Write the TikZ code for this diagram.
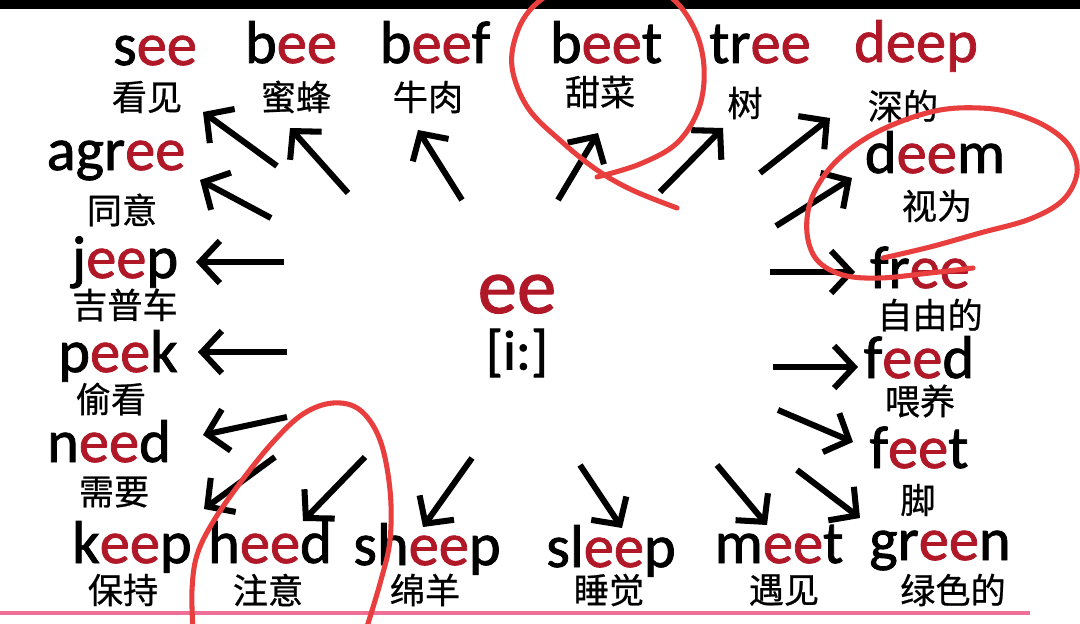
\documentclass[tikz,border=0pt]{standalone}
\usepackage{fontspec}
\setmainfont{Carlito}[FakeBold=1.3]
\newfontfamily\zhfont{Noto Sans CJK SC}[FakeBold=0.7]
\usetikzlibrary{arrows.meta}
\definecolor{eered}{RGB}{176,24,40}
\definecolor{annotred}{RGB}{232,62,62}
\definecolor{pinkline}{RGB}{238,112,150}
\newcommand{\E}[1]{\textcolor{eered}{#1}}
\begin{document}
\begin{tikzpicture}[x=0.025cm,y=-0.025cm,
  en/.style={anchor=base,inner sep=0pt,font=\fontsize{43}{47}\selectfont},
  zh/.style={anchor=center,inner sep=0pt,font=\zhfont\fontsize{25}{28}\selectfont},
  arr/.style={line width=4.3pt,-{Straight Barb[length=14pt,width=30pt]}},
  annot/.style={draw=annotred,line width=3.6pt,line cap=round,line join=round}]
\useasboundingbox (0,0) rectangle (1080,624);
\clip (0,0) rectangle (1080,624);
\fill[white] (0,0) rectangle (1080,624);
\fill[black] (0,0) rectangle (1080,9);

% centre
\node[anchor=base,inner sep=0pt,font=\fontsize{56}{60}\selectfont] (ee) at (517,313) {\E{ee}};
\node[anchor=center,inner sep=0pt,font=\fontsize{40}{44}\selectfont] (ipa) at (517,353) {[i:]};

% words
\node[en] (see) at (155,65) {s\E{ee}};
\node[zh] (seezh) at (147,97) {看见};
\node[en] (bee) at (291,63) {b\E{ee}};
\node[zh] (beezh) at (296,97) {蜜蜂};
\node[en] (beef) at (435,63) {b\E{ee}f};
\node[zh] (beefzh) at (428,97) {牛肉};
\node[en] (beet) at (606,63) {b\E{ee}t};
\node[zh] (beetzh) at (600,92) {甜菜};
\node[en] (tree) at (760,63) {tr\E{ee}};
\node[zh] (treezh) at (745,103) {树};
\node[en] (deep) at (916,62) {\E{deep}};
\node[zh] (deepzh) at (903,106) {深的};
\node[en] (agree) at (116,170) {agr\E{ee}};
\node[zh] (agreezh) at (122,210) {同意};
\node[en] (deem) at (935,173) {d\E{ee}m};
\node[zh] (deemzh) at (937,206) {视为};
\node[en] (jeep) at (125,278) {j\E{ee}p};
\node[zh] (jeepzh) at (125,305) {吉普车};
\node[en] (free) at (920,288) {fr\E{ee}};
\node[zh] (freezh) at (930,315) {自由的};
\node[en] (peek) at (118,372) {p\E{ee}k};
\node[zh] (peekzh) at (111,399) {偷看};
\node[en] (feed) at (919,378) {f\E{ee}d};
\node[zh] (feedzh) at (920,401) {喂养};
\node[en] (need) at (109,462) {n\E{ee}d};
\node[zh] (needzh) at (114,492) {需要};
\node[en] (feet) at (919,468) {f\E{ee}t};
\node[zh] (feetzh) at (918,500) {脚};
\node[en] (keep) at (132,563) {k\E{ee}p};
\node[zh] (keepzh) at (123,590) {保持};
\node[en] (heed) at (270,563) {h\E{ee}d};
\node[zh] (heedzh) at (268,590) {注意};
\node[en] (sheep) at (427,565) {sh\E{ee}p};
\node[zh] (sheepzh) at (425,590) {绵羊};
\node[en] (sleep) at (611,567) {sl\E{ee}p};
\node[zh] (sleepzh) at (609,590) {睡觉};
\node[en] (meet) at (779,563) {m\E{ee}t};
\node[zh] (meetzh) at (784,590) {遇见};
\node[en] (green) at (940,560) {gr\E{ee}n};
\node[zh] (greenzh) at (953,590) {绿色的};

% arrow ends
\coordinate (seeT) at (277,166);  \coordinate (seeH) at (203,112);
\coordinate (beeT) at (348,193);  \coordinate (beeH) at (290,128);
\coordinate (agreeT) at (271,218); \coordinate (agreeH) at (200,180);
\coordinate (beefT) at (462,200); \coordinate (beefH) at (418,130);
\coordinate (beetT) at (558,200); \coordinate (beetH) at (598,133);
\coordinate (treeT) at (660,192); \coordinate (treeH) at (723,128);
\coordinate (deepT) at (760,173); \coordinate (deepH) at (830,118);
\coordinate (deemT) at (776,226); \coordinate (deemH) at (852,178);
\coordinate (freeT) at (770,272); \coordinate (freeH) at (855,272);
\coordinate (feedT) at (773,367); \coordinate (feedH) at (858,367);
\coordinate (feetT) at (778,410); \coordinate (feetH) at (853,442);
\coordinate (greenT) at (797,470); \coordinate (greenH) at (860,518);
\coordinate (meetT) at (717,465); \coordinate (meetH) at (767,525);
\coordinate (sleepT) at (580,465); \coordinate (sleepH) at (622,528);
\coordinate (sheepT) at (472,458); \coordinate (sheepH) at (423,527);
\coordinate (heedT) at (365,457); \coordinate (heedH) at (303,521);
\coordinate (keepT) at (275,457); \coordinate (keepH) at (204,509);
\coordinate (needT) at (287,417); \coordinate (needH) at (203,435);
\coordinate (jeepT) at (284,262); \coordinate (jeepH) at (196,262);
\coordinate (peekT) at (287,352); \coordinate (peekH) at (198,352);

\foreach \w in {see,bee,agree,beef,beet,tree,deep,deem,free,feed,feet,green,meet,sleep,sheep,heed,keep,need,jeep,peek}
  \draw[arr] (\w T) -- (\w H);

% pink rule
\draw[pinkline,line width=3pt] (0,613) -- (1030,613);

% hand-drawn annotations
\draw[annot] plot[smooth,tension=0.6] coordinates {(597,177) (640,164) (677,143) (699,108) (704,67) (694,28) (668,-5) (620,-25) (570,-15) (537,3) (518,30) (512,67) (528,108) (562,142) (597,170) (632,190) (677,208)};
\draw[annot] plot[smooth,tension=0.6] coordinates {(883,258) (930,247) (980,233) (1030,219) (1063,200) (1077,173) (1070,147) (1047,127) (1013,113) (980,108) (940,110) (897,123) (860,142) (830,168) (811,200) (807,233) (817,260) (843,275) (880,278) (930,273) (973,268)};
\draw[annot] plot[smooth,tension=0.6] coordinates {(193,630) (192,590) (197,555) (213,522) (240,483) (273,442) (303,414) (333,403) (360,410) (380,440) (390,490) (390,540) (381,580) (366,630)};
\end{tikzpicture}
\end{document}
